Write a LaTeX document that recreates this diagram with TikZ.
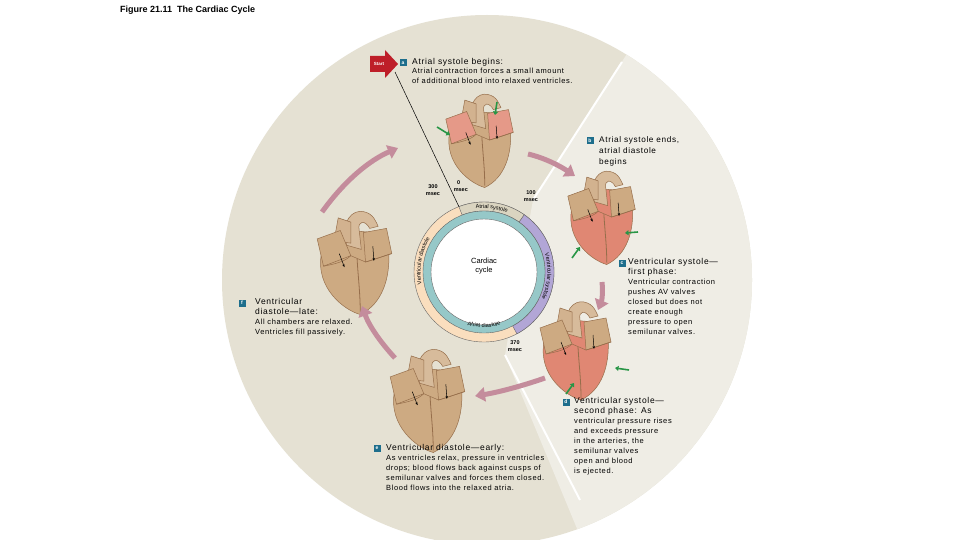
\documentclass[tikz,border=0pt]{standalone}
\usepackage{fontspec}
\setmainfont{Liberation Sans}
\newfontfamily\wide{Liberation Sans}[LetterSpace=8]
\usetikzlibrary{decorations.text,arrows.meta,calc}
\definecolor{disc}{RGB}{229,225,211}
\definecolor{discR}{RGB}{239,237,229}
\definecolor{peach}{RGB}{250,222,190}
\definecolor{lav}{RGB}{178,166,214}
\definecolor{teal}{RGB}{150,200,200}
\definecolor{asys}{RGB}{218,212,192}
\definecolor{mauve}{RGB}{196,140,156}
\definecolor{tan}{RGB}{205,170,130}
\definecolor{tanD}{RGB}{150,110,75}
\definecolor{pinkH}{RGB}{224,135,115}
\definecolor{boxb}{RGB}{30,110,140}
\definecolor{startr}{RGB}{190,30,40}
\definecolor{grn}{RGB}{40,150,70}
\tikzset{
 txt/.style={font=\wide\fontsize{7.5}{10}\selectfont,align=left,anchor=north west,inner sep=0},
 hd/.style={font=\wide\fontsize{8.5}{10}\selectfont,align=left,anchor=north west,inner sep=0},
 tag/.style={fill=boxb,text=white,font=\bfseries\fontsize{5}{5}\selectfont,minimum size=7pt,inner sep=0},
 flow/.style={mauve,line width=5pt,-{Triangle[length=10pt,width=14pt]}},
 gflow/.style={grn,line width=1.6pt,-{Triangle[length=3.5pt,width=5pt]}},
 ms/.style={font=\bfseries\fontsize{5.5}{7}\selectfont,align=center,inner sep=0},
 rtext/.style={decorate,decoration={text along path,text align=center,text={|\fontsize{5.6}{6}\selectfont|#1}}},
 hbody/.style={fill=tan},
 hatr/.style={fill=tan},
 heart/.pic={
   \fill[hbody,draw=tanD,line width=.5pt] (-32,-8) .. controls (-38,25) and (-10,46) .. (5,50) .. controls (26,40) and (34,15) .. (32,-12) -- (18,-28) -- (-5,-30) -- cycle;
   \fill[tan!80!white,draw=tanD,line width=.5pt] (-8,-16) .. controls (-14,-40) and (-2,-50) .. (8,-48) .. controls (18,-46) and (20,-38) .. (22,-34) -- (14,-32) .. controls (10,-40) and (2,-40) .. (4,-30) -- (6,-12) -- cycle;
   \fill[tan!90!white,draw=tanD,line width=.5pt] (-20,-20) -- (-16,-42) -- (-4,-38) -- (-4,-18) -- cycle;
   \fill[hatr,draw=tanD,line width=.5pt] (-36,-22) -- (-14,-30) -- (-4,-6) -- (-30,4) -- cycle;
   \fill[hatr,draw=tanD,line width=.5pt] (8,-28) -- (30,-32) -- (35,-8) -- (10,0) -- cycle;
   \draw[tanD,line width=.5pt] (-30,4) .. controls (-20,2) and (-10,0) .. (-4,-6) -- (10,0) .. controls (18,-2) and (28,-6) .. (35,-8);
   \draw[tanD,line width=.8pt] (2,-3) .. controls (3,15) and (5,30) .. (5,48);
   \draw[-{Stealth[length=3pt]},line width=.5pt] (-15,-8) -- (-10,5);
   \draw[-{Stealth[length=3pt]},line width=.5pt] (17,-15) -- (18,-1);
 }
}
\begin{document}
\begin{tikzpicture}[x=1pt,y=-1pt]
\useasboundingbox (0,0) rectangle (960,540);
\fill[white] (0,0) rectangle (960,540);
\begin{scope}
\clip (0,0) rectangle (960,540);
\fill[disc] (487,280) circle (265);
\begin{scope}
\clip (487,280) circle (265);
\fill[discR] (533,200) -- (650,18) -- (800,18) -- (800,560) -- (590,560) -- (505,355) -- cycle;
\end{scope}
\draw[white,line width=2pt] (533,200) -- (622,62);
\draw[white,line width=2pt] (505,355) -- (580,500);
\end{scope}

\node[font=\bfseries\fontsize{9}{10}\selectfont,anchor=north west,inner sep=0] (title) at (120,6) {Figure 21.11\ \ The Cardiac Cycle};

% ring
\coordinate (rc) at (484,272);
\fill[peach,draw=black!60,line width=.4pt] (rc) circle (70);
\fill[lav,draw=black!60,line width=.4pt] (rc) ++(-55:70) arc[start angle=-55,end angle=62,radius=70] -- ($(rc)+(62:61)$) arc[start angle=62,end angle=-55,radius=61] -- cycle;
\fill[asys,draw=black!60,line width=.4pt] (rc) ++(-111:70) arc[start angle=-111,end angle=-55,radius=70] -- ($(rc)+(-55:61)$) arc[start angle=-55,end angle=-111,radius=61] -- cycle;
\fill[teal,draw=black!60,line width=.4pt] (rc) circle (61);
\fill[white,draw=black!60,line width=.4pt] (rc) circle (53);
\path[rtext={Atrial systole}] (rc) ++(-108:63.5) arc[start angle=-108,end angle=-58,radius=63.5];
\path[rtext={Ventricular systole}] (rc) ++(-50:63.5) arc[start angle=-50,end angle=58,radius=63.5];
\path[rtext={Ventricular diastole}] (rc) ++(145:63.5) arc[start angle=145,end angle=235,radius=63.5];
\path[rtext={Atrial diastole}] (rc) ++(122:55.5) arc[start angle=122,end angle=58,radius=55.5];
\node[font=\fontsize{7.5}{9}\selectfont,align=center] (cc) at (484,266) {Cardiac\\cycle};
\node[ms] (m300) at (433,190) {300\\msec};
\node[ms,anchor=north west] (m0) at (449,180) {0\\\ \ \ msec};
\node[ms] (m100) at (531,196) {100\\msec};
\node[ms] (m370) at (515,346) {370\\msec};
\coordinate (c0) at ($(rc)+(-111:70)$);

% hearts
\pic (hA) at (480,140) [scale=0.95,hatr/.style={fill=pinkH!85!white}] {heart};
\pic (hB) at (602,217) [scale=0.95,hbody/.style={fill=pinkH}] {heart};
\pic (hC) at (576,350) [scale=1.0,hbody/.style={fill=pinkH}] {heart};
\pic (hE) at (428,400) [scale=1.05] {heart};
\pic (hF) at (355,262) [scale=1.05] {heart};

% green arrows
\draw[gflow] (437,127) -- (450,135);
\draw[gflow] (497,102) -- (495,115);
\draw[gflow] (638,232) -- (625,233);
\draw[gflow] (572,258) -- (580,247);
\draw[gflow] (629,370) -- (615,368);
\draw[gflow] (566,394) -- (574,383);

% flow arrows
\draw[flow] (322,212) .. controls (345,180) and (370,160) .. (398,148);
\draw[flow] (528,154) .. controls (545,158) and (560,166) .. (575,176);
\draw[flow] (602,282) .. controls (603,292) and (602,300) .. (598,310);
\draw[flow] (545,378) .. controls (525,385) and (500,392) .. (475,396);
\draw[flow] (395,358) .. controls (383,345) and (370,328) .. (362,306);

% start
\fill[startr] (370,56) -- (385,56) -- (385,50) -- (398,64) -- (385,78) -- (385,72) -- (370,72) -- cycle;
\node[font=\bfseries\fontsize{4.5}{5}\selectfont,text=white,inner sep=0] (st) at (379,64) {Start};
\coordinate (lt) at (395,72);
\draw[line width=.5pt] (lt) -- (c0);

% texts
\node[tag] (ta) at (403,63) {a};
\node[hd] (ha) at (412,58) {Atrial systole begins:};
\node[txt] (xa) at (412,68) {Atrial contraction forces a small amount\\of additional blood into relaxed ventricles.};
\node[tag] (tb) at (590,141) {b};
\node[hd,font=\wide\fontsize{8.2}{11}\selectfont] (hb) at (599,136) {Atrial systole ends,\\atrial diastole\\begins};
\node[tag] (tc) at (622,263) {c};
\node[hd] (hc) at (628,258) {Ventricular systole—\\first phase:};
\node[txt] (xc) at (628,279) {Ventricular contraction\\pushes AV valves\\closed but does not\\create enough\\pressure to open\\semilunar valves.};
\node[tag] (td) at (566,402) {d};
\node[hd] (hdd) at (574,397) {Ventricular systole—\\second phase: As};
\node[txt] (xd) at (574,418) {ventricular pressure rises\\and exceeds pressure\\in the arteries, the\\semilunar valves\\open and blood\\is ejected.};
\node[tag] (te) at (377,448) {e};
\node[hd] (he) at (386,444) {Ventricular diastole—early:};
\node[txt] (xe) at (386,455) {As ventricles relax, pressure in ventricles\\drops; blood flows back against cusps of\\semilunar valves and forces them closed.\\Blood flows into the relaxed atria.};
\node[tag] (tf) at (242,303) {f};
\node[hd] (hf) at (255,298) {Ventricular\\diastole—late:};
\node[txt] (xf) at (255,319) {All chambers are relaxed.\\Ventricles fill passively.};
\end{tikzpicture}
\end{document}
